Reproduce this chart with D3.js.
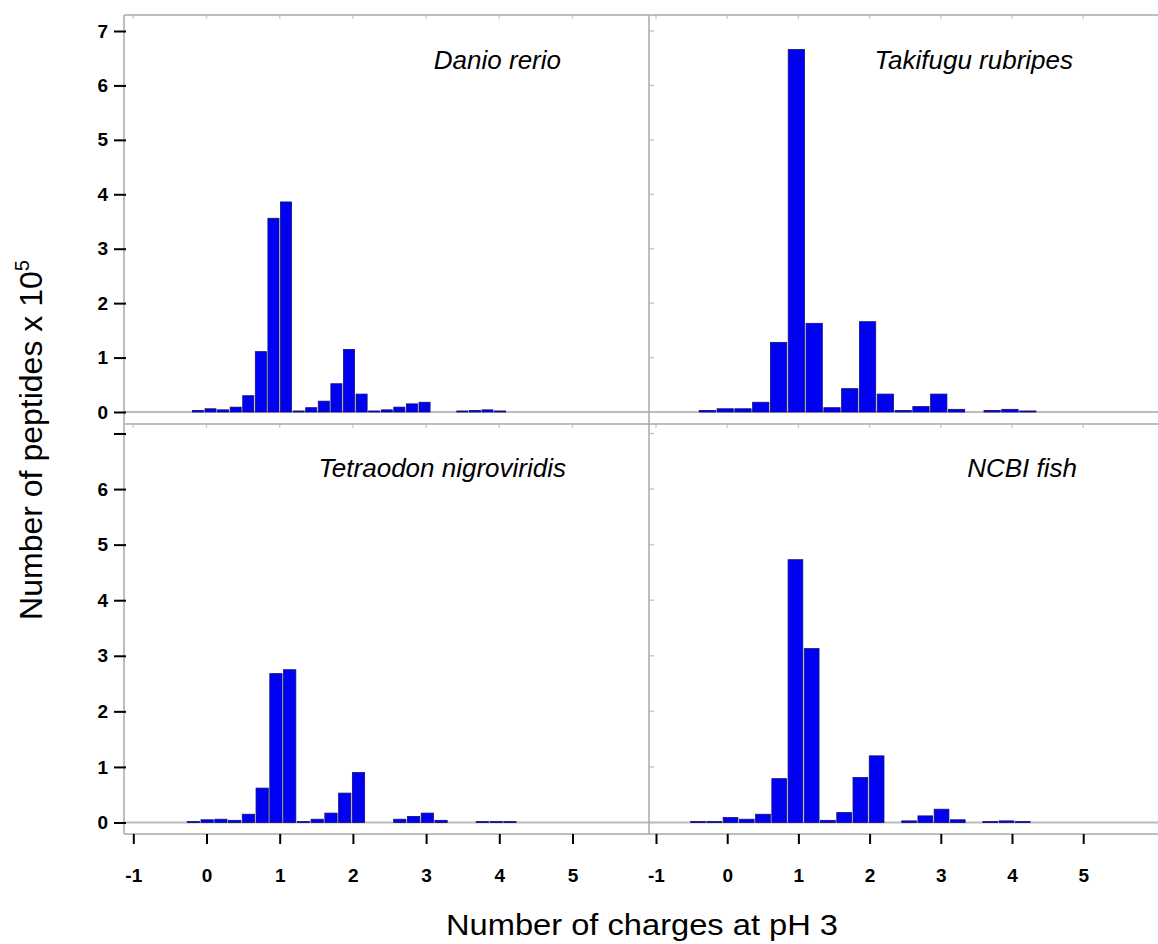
<!DOCTYPE html>
<html>
<head>
<meta charset="utf-8">
<script src="https://cdn.jsdelivr.net/npm/d3@7/dist/d3.min.js"></script>
<style>
  body { margin: 0; background: #fff; }
  svg { display: block; font-family: Arial, "Liberation Sans", sans-serif; }
</style>
</head>
<body>
<div id="chart"></div>
<script>
// panel titles, order: top-left, top-right, bottom-left, bottom-right
var panelNames = ['Danio rerio', 'Takifugu rubripes', 'Tetraodon nigroviridis', 'NCBI fish'];

// histogram bins (in charge units): first bin left edge and bin width, per panel
var binStart = [-0.20, -0.40, -0.27, -0.52];
var binWidth = [0.172, 0.25, 0.188, 0.228];

// number of peptides x 10^5 in each bin
var danioValues = [0.02, 0.05, 0.03, 0.08, 0.29, 1.10, 3.55, 3.85, 0.01, 0.07, 0.19, 0.51, 1.14,
    0.32, 0.01, 0.03, 0.08, 0.14, 0.17, 0.00, 0.00, 0.01, 0.02, 0.03, 0.01];
var takifuguValues = [0.02, 0.05, 0.05, 0.17, 1.27, 6.65, 1.62, 0.07, 0.42, 1.65, 0.32, 0.02,
    0.09, 0.32, 0.04, 0.00, 0.02, 0.04, 0.01];
var tetraodonValues = [0.01, 0.04, 0.05, 0.03, 0.14, 0.61, 2.67, 2.74, 0.01, 0.05, 0.16, 0.52, 0.89,
    0.00, 0.00, 0.05, 0.10, 0.16, 0.03, 0.00, 0.00, 0.01, 0.01, 0.01];
var ncbiValues = [0.01, 0.01, 0.08, 0.05, 0.14, 0.78, 4.72, 3.12, 0.03, 0.17, 0.80, 1.19, 0.00,
    0.02, 0.11, 0.23, 0.04, 0.00, 0.01, 0.02, 0.01];

var xTicks = [-1, 0, 1, 2, 3, 4, 5];
var yTicks = [0, 1, 2, 3, 4, 5, 6, 7];

var allValues = [danioValues, takifuguValues, tetraodonValues, ncbiValues];

var OuterWidth = 1158;
var OuterHeight = 944;

// panel frames
var colEdges = [[124, 649], [649, 1158]];
var rowEdges = [[15, 424], [424, 834]];
var labelRight = [561, 1073, 566, 1077];
var labelBase = [69, 477];

var svg = d3.select('#chart').append('svg')
    .attr('width', OuterWidth)
    .attr('height', OuterHeight);

svg.append('rect')
    .attr('width', OuterWidth)
    .attr('height', OuterHeight)
    .attr('fill', '#fff');

// one x scale per column, one y scale per row
var xScales = [
    d3.scaleLinear().domain([-1, 5]).range([133.3, 572.5]),
    d3.scaleLinear().domain([-1, 5]).range([656, 1083.2])
];
var yScales = [
    d3.scaleLinear().domain([0, 7]).range([412, 31]),
    d3.scaleLinear().domain([0, 7]).range([822.5, 433.5])
];

var defs = svg.append('defs');

allValues.forEach(function (values, p) {
    var col = p % 2, row = Math.floor(p / 2);
    var xScale = xScales[col], yScale = yScales[row];
    var x0 = colEdges[col][0], x1 = colEdges[col][1];
    var y0 = rowEdges[row][0], y1 = rowEdges[row][1];

    defs.append('clipPath').attr('id', 'clip' + p)
        .append('rect')
        .attr('x', x0).attr('y', y0)
        .attr('width', x1 - x0).attr('height', y1 - y0);

    var g = svg.append('g').attr('clip-path', 'url(#clip' + p + ')');

    // faint inner ticks along the top edge
    g.selectAll('.ftx')
        .data(xTicks)
        .enter()
        .append('line')
        .attr('x1', function (d) { return xScale(d); })
        .attr('x2', function (d) { return xScale(d); })
        .attr('y1', y0).attr('y2', y0 + 4)
        .attr('stroke', '#d0d0d0')
        .attr('stroke-width', 1.5);

    if (col == 1) {
        g.selectAll('.fty')
            .data(yTicks)
            .enter()
            .append('line')
            .attr('x1', x0).attr('x2', x0 + 5)
            .attr('y1', function (d) { return yScale(d); })
            .attr('y2', function (d) { return yScale(d); })
            .attr('stroke', '#c8c8c8')
            .attr('stroke-width', 1.5);
    }

    // zero line
    g.append('line')
        .attr('x1', x0).attr('x2', x1)
        .attr('y1', yScale(0)).attr('y2', yScale(0))
        .attr('stroke', '#bcbcbc')
        .attr('stroke-width', 2);

    g.selectAll('.bar')
        .data(values)
        .enter()
        .append('rect')
        .attr('class', 'bar')
        .attr('x', function (d, i) {
            return xScale(binStart[p] + i * binWidth[p]) + 0.5;
        })
        .attr('width', function (d, i) {
            var a = binStart[p] + i * binWidth[p];
            return xScale(a + binWidth[p]) - xScale(a) - 1.5;
        })
        .attr('y', function (d) { return yScale(d) - 0.5; })
        .attr('height', function (d) { return yScale(0) - yScale(d) + 0.5; })
        .attr('fill', '#0000f2')
        .attr('stroke', '#10107a')
        .attr('stroke-width', 0.8)
        .attr('opacity', function (d) { return d > 0 ? 1 : 0; });

    svg.append('text')
        .attr('x', labelRight[p])
        .attr('y', labelBase[row])
        .attr('text-anchor', 'end')
        .attr('font-size', 26)
        .attr('font-style', 'italic')
        .attr('fill', '#000')
        .text(panelNames[p]);
});

// frame lines
var frame = svg.append('g')
    .attr('stroke', '#a8a8a8')
    .attr('stroke-width', 1.5);
[15, 424, 834].forEach(function (y) {
    frame.append('line').attr('x1', 124).attr('x2', 1158).attr('y1', y).attr('y2', y);
});
[124, 649].forEach(function (x) {
    frame.append('line').attr('x1', x).attr('x2', x).attr('y1', 15).attr('y2', 834);
});

// y axes on the left
yScales.forEach(function (yScale, row) {
    var yAxis = d3.axisLeft(yScale)
        .tickValues(yTicks)
        .tickSize(12)
        .tickPadding(6)
        .tickFormat(function (d) {
            return (row == 1 && d == 7) ? '' : String(d);
        });
    var yAxisG = svg.append('g')
        .attr('transform', 'translate(126,0)')
        .call(yAxis);
    yAxisG.select('.domain').remove();
    yAxisG.selectAll('line').attr('stroke', '#000').attr('stroke-width', 2);
    yAxisG.selectAll('text')
        .attr('font-size', 19)
        .attr('font-weight', 'bold')
        .attr('font-family', 'Arial, "Liberation Sans", sans-serif')
        .attr('fill', '#000');
});

// x axes at the bottom
xScales.forEach(function (xScale) {
    var xAxis = d3.axisBottom(xScale)
        .tickValues(xTicks)
        .tickSize(10)
        .tickPadding(25)
        .tickFormat(function (d) { return String(d); });
    var xAxisG = svg.append('g')
        .attr('transform', 'translate(0,834)')
        .call(xAxis);
    xAxisG.select('.domain').remove();
    xAxisG.selectAll('line').attr('stroke', '#000').attr('stroke-width', 2);
    xAxisG.selectAll('text')
        .attr('font-size', 19)
        .attr('font-weight', 'bold')
        .attr('font-family', 'Arial, "Liberation Sans", sans-serif')
        .attr('fill', '#000');
});

// axis titles
svg.append('text')
    .attr('x', 642)
    .attr('y', 935)
    .attr('text-anchor', 'middle')
    .attr('font-size', 30)
    .attr('textLength', 392)
    .attr('lengthAdjust', 'spacingAndGlyphs')
    .text('Number of charges at pH 3');

var yTitle = svg.append('text')
    .attr('transform', 'translate(42,440) rotate(-90)')
    .attr('text-anchor', 'middle')
    .attr('font-size', 32);
yTitle.append('tspan').text('Number of peptides x 10');
yTitle.append('tspan')
    .attr('dy', -13)
    .attr('font-size', 20)
    .text('5');
</script>
</body>
</html>
